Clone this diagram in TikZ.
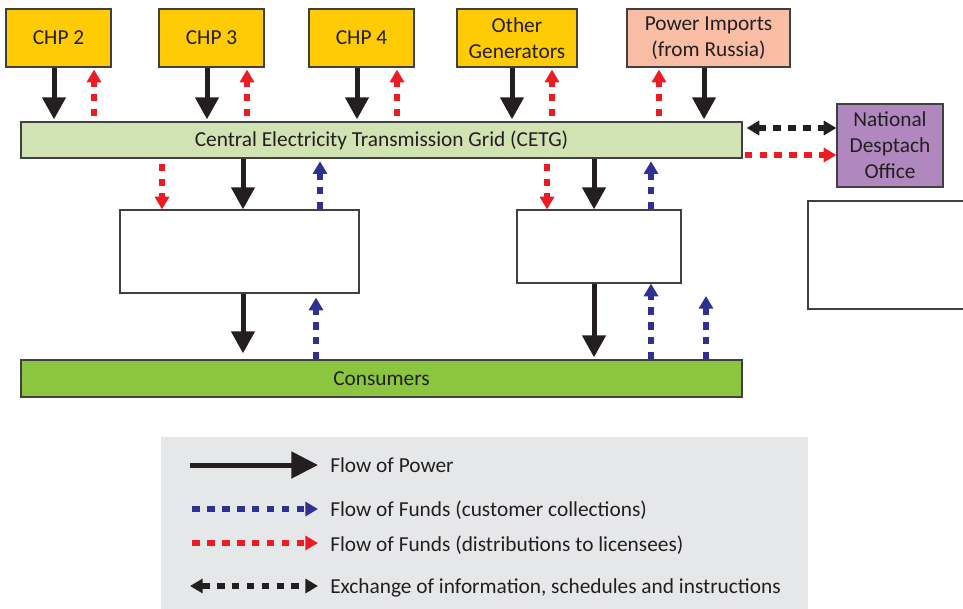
\documentclass[tikz,border=0pt]{standalone}
\usepackage{fontspec}
\setmainfont{Carlito}
\usetikzlibrary{arrows.meta}

\definecolor{ink}{HTML}{231F20}
\definecolor{edge}{HTML}{404041}
\definecolor{genyellow}{HTML}{FFCB05}
\definecolor{importpink}{HTML}{F9BDA5}
\definecolor{gridgreen}{HTML}{D1E3B3}
\definecolor{consgreen}{HTML}{8CC63F}
\definecolor{despurple}{HTML}{B088BF}
\definecolor{legendgray}{HTML}{E6E7E8}
\definecolor{fundblue}{HTML}{2E3192}
\definecolor{fundred}{HTML}{ED1C24}

\begin{document}
\begin{tikzpicture}[x=0.75pt,y=-0.75pt,
    font=\fontsize{16}{19.5}\selectfont, text=ink,
    box/.style={draw=edge, line width=0.9pt, inner sep=0pt, align=center},
    boxsize/.style 2 args={minimum width=#1*0.75pt, minimum height=#2*0.75pt},
    power/.style={draw=ink, line width=3.75pt, -{Triangle[length=16.5pt,width=17pt]}},
    funds/.style={line width=4pt, dash pattern=on 5.8pt off 5.4pt, -{Triangle[length=9.5pt,width=10.5pt]}},
    collect/.style={funds, draw=fundblue},
    distrib/.style={funds, draw=fundred},
    info/.style={funds, draw=ink, {Triangle[length=9.5pt,width=10.5pt]}-{Triangle[length=9.5pt,width=10.5pt]}},
    keytext/.style={anchor=base west, inner sep=0pt}]
    \useasboundingbox (0,0) rectangle (963,608);

    % generators and imports
    \node[box, fill=genyellow, boxsize={105}{58}] (chp2) at (58.5,38) {CHP 2};
    \node[box, fill=genyellow, boxsize={105}{58}] (chp3) at (211.5,38) {CHP 3};
    \node[box, fill=genyellow, boxsize={105}{58}] (chp4) at (361.5,38) {CHP 4};
    \node[box, fill=genyellow, boxsize={120}{58}] (other) at (517,38) {Other\\Generators};
    \node[box, fill=importpink, boxsize={163}{58}] (imports) at (708.5,38) {Power Imports\\(from Russia)};

    % grid and despatch office
    \node[box, fill=gridgreen, boxsize={721}{36}] (cetg) at (381.5,140) {Central Electricity Transmission Grid (CETG)};
    \node[box, fill=despurple, boxsize={106}{83}] (ndo) at (890,145.5) {National\\Desptach\\Office};

    % blank boxes
    \node[box, fill=white, boxsize={239}{83}] (distA) at (239.5,251.5) {};
    \node[box, fill=white, boxsize={164}{73}] (distB) at (599,246.5) {};
    \node[box, fill=white, boxsize={167}{108}] (side) at (891.5,255) {};

    \node[box, fill=consgreen, boxsize={721}{37}] (cons) at (381.5,378.5) {Consumers};

    % generators <-> grid
    \foreach \g/\xp/\xf in {chp2/54/94, chp3/207/247, chp4/357/397, other/512/552}{
      \draw[power, shorten >=1.5pt] (\g.south -| \xp,0) -- (cetg.north -| \xp,0);
      \draw[distrib, shorten <=3.75pt, shorten >=1.5pt] (cetg.north -| \xf,0) -- (\g.south -| \xf,0);
    }
    \draw[distrib, shorten <=3.75pt, shorten >=1.5pt] (cetg.north -| 659,0) -- (imports.south -| 659,0);
    \draw[power, shorten >=1.5pt] (imports.south -| 704,0) -- (cetg.north -| 704,0);

    % grid <-> despatch
    \draw[info, shorten <=3pt] (cetg.east |- 0,128) -- (ndo.west |- 0,128);
    \draw[distrib, shorten <=1.5pt] (cetg.east |- 0,155) -- (ndo.west |- 0,155);

    % grid <-> boxes
    \draw[distrib, shorten <=3.75pt] (cetg.south -| 162,0) -- (distA.north -| 162,0);
    \draw[power] (cetg.south -| 243,0) -- (distA.north -| 243,0);
    \draw[collect, shorten >=2pt] (distA.north -| 320,0) -- (cetg.south -| 320,0);
    \draw[distrib, shorten <=3.75pt] (cetg.south -| 547,0) -- (distB.north -| 547,0);
    \draw[power] (cetg.south -| 594,0) -- (distB.north -| 594,0);
    \draw[collect, shorten >=2pt] (distB.north -| 651,0) -- (cetg.south -| 651,0);

    % boxes <-> consumers
    \draw[power, shorten >=4.5pt] (distA.south -| 243,0) -- (cons.north -| 243,0);
    \draw[collect, shorten >=3pt] (cons.north -| 316,0) -- (distA.south -| 316,0);
    \draw[power, shorten >=1.5pt] (distB.south -| 594,0) -- (cons.north -| 594,0);
    \draw[collect] (cons.north -| 651,0) -- (distB.south -| 651,0);
    \coordinate (loose) at (706,296);
    \draw[collect] (cons.north -| loose) -- (loose);

    % legend
    \fill[legendgray] (161,437) rectangle (808,612);
    \node[keytext] (keyPower) at (330,472) {Flow of Power};
    \node[keytext] (keyCollect) at (330,516) {Flow of Funds (customer collections)};
    \node[keytext] (keyDistrib) at (330,551) {Flow of Funds (distributions to licensees)};
    \node[keytext] (keyInfo) at (330,593) {Exchange of information, schedules and instructions};
    \coordinate (kp) at (190,465);
    \coordinate (kc) at (192,509);
    \coordinate (kd) at (192,543);
    \coordinate (ki) at (190,586);
    \draw[power, -{Triangle[length=20pt,width=19.5pt]}, shorten >=9pt] (kp) -- (kp -| keyPower.west);
    \draw[collect, shorten >=9pt] (kc) -- (kc -| keyCollect.west);
    \draw[distrib, shorten >=9pt] (kd) -- (kd -| keyDistrib.west);
    \draw[info, shorten >=9pt] (ki) -- (ki -| keyInfo.west);
\end{tikzpicture}
\end{document}
